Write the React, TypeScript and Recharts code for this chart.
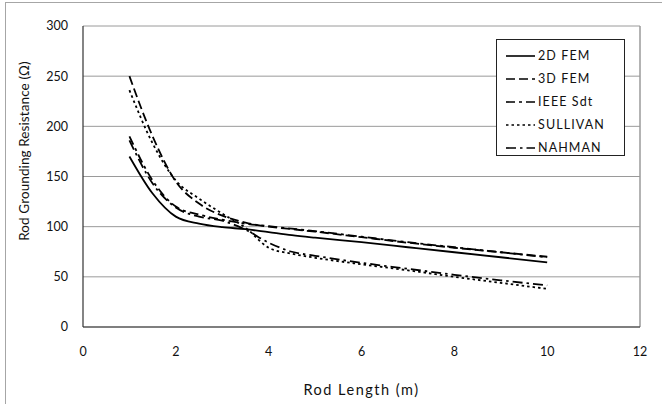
import React from "react";
import {
  LineChart,
  Line,
  XAxis,
  YAxis,
  CartesianGrid,
  ReferenceLine,
} from "recharts";

// rod length (m)
const rodLength = [1, 1.5, 2, 2.5, 3, 3.5, 4, 4.5, 5, 6, 7, 8, 9, 10];

// rod grounding resistance (ohm) per method
const fem2d = [170, 133, 110, 103, 99.5, 97.5, 94.5, 91.5, 89, 84.5, 79.5, 74.5, 69.5, 64.5];
const fem3d = [250, 190, 145, 123, 111, 104, 100, 97.5, 95, 89.5, 84, 79, 74.5, 70];
const ieeeStd = [190, 146, 120, 112, 107, 103, 100.5, 98, 95.5, 90, 84.5, 79.5, 74.5, 69.5];
const sullivan = [236, 183, 146, 128, 113, 99, 79, 73, 69, 62.5, 56.5, 50, 44, 38];
const nahman = [186, 143, 119, 110, 106, 97, 84, 75, 71, 64, 58, 52, 46.5, 41.5];

const xTicks = [0, 2, 4, 6, 8, 10, 12];
const yTicks = [0, 50, 100, 150, 200, 250, 300];

const series = [
  { key: "fem2d", name: "2D FEM", values: fem2d, dash: undefined },
  { key: "fem3d", name: "3D FEM", values: fem3d, dash: "9 4" },
  { key: "ieee", name: "IEEE Sdt", values: ieeeStd, dash: "9 4 3 4" },
  { key: "sullivan", name: "SULLIVAN", values: sullivan, dash: "2.5 3" },
  { key: "nahman", name: "NAHMAN", values: nahman, dash: "10 4 2.5 4" },
];

const data = rodLength.map((x, i) => {
  const row: Record<string, number> = { x };
  series.forEach((s) => {
    row[s.key] = s.values[i];
  });
  return row;
});

const FONT = "Lato, 'Open Sans', sans-serif";

function LegendBox() {
  return (
    <div
      style={{
        position: "absolute",
        left: 496,
        top: 39,
        width: 127,
        height: 111,
        border: "1px solid #222",
        background: "#fff",
        paddingTop: 4,
      }}
    >
      {series.map((s) => (
        <div
          key={s.key}
          style={{ display: "flex", alignItems: "center", height: 23 }}
        >
          <svg width={40} height={10} style={{ flex: "none" }}>
            <line
              x1={9}
              x2={38}
              y1={5}
              y2={5}
              stroke="#000"
              strokeWidth={1.6}
              strokeDasharray={s.dash}
            />
          </svg>
          <span
            style={{
              fontFamily: FONT,
              fontSize: 12.5,
              letterSpacing: 1.1,
              color: "#111",
              marginLeft: 1,
            }}
          >
            {s.name}
          </span>
        </div>
      ))}
    </div>
  );
}

export default function App() {
  return (
    <div
      style={{
        position: "absolute",
        left: 0,
        top: 0,
        width: 662,
        height: 404,
        overflow: "hidden",
        background: "#fff",
      }}
    >
      {/* outer chart frame */}
      <div
        style={{
          position: "absolute",
          left: 5,
          top: 2,
          width: 700,
          height: 500,
          border: "1.5px solid #a6a6a6",
        }}
      />
      <LineChart
        width={662}
        height={404}
        data={data}
        margin={{ top: 26, right: 22, bottom: 0, left: 0 }}
        style={{ position: "absolute", left: 0, top: 0 }}
      >
        <CartesianGrid vertical={false} stroke="#9a9a9a" strokeWidth={1} />
        <ReferenceLine x={12} stroke="#9a9a9a" strokeWidth={1.5} />
        <XAxis
          dataKey="x"
          type="number"
          height={77}
          domain={[0, 12]}
          ticks={xTicks}
          tickLine={false}
          axisLine={{ stroke: "#333", strokeWidth: 1.2 }}
          tickMargin={14}
          tick={{ fill: "#111", fontSize: 12.5, fontFamily: FONT }}
          label={{
            value: "Rod Length (m)",
            position: "insideBottom",
            offset: 9,
            style: {
              fill: "#111",
              fontSize: 14.5,
              fontFamily: FONT,
              letterSpacing: 1.5,
            },
          }}
        />
        <YAxis
          type="number"
          width={83}
          domain={[0, 300]}
          ticks={yTicks}
          tickLine={false}
          axisLine={{ stroke: "#333", strokeWidth: 1.2 }}
          tickMargin={9}
          tick={{ fill: "#111", fontSize: 12.5, fontFamily: FONT }}
          label={{
            content: () => (
              <text
                transform="translate(24,151) rotate(-90)"
                textAnchor="middle"
                dominantBaseline="central"
                fill="#111"
                fontSize={13.5}
                fontFamily={FONT}
                letterSpacing={0.1}
              >
                Rod Grounding Resistance (Ω)
              </text>
            ),
          }}
        />
        {series.map((s) => (
          <Line
            key={s.key}
            dataKey={s.key}
            name={s.name}
            type="monotone"
            stroke="#000"
            strokeWidth={1.8}
            strokeDasharray={s.dash}
            dot={false}
            isAnimationActive={false}
          />
        ))}
      </LineChart>
      <LegendBox />
    </div>
  );
}
